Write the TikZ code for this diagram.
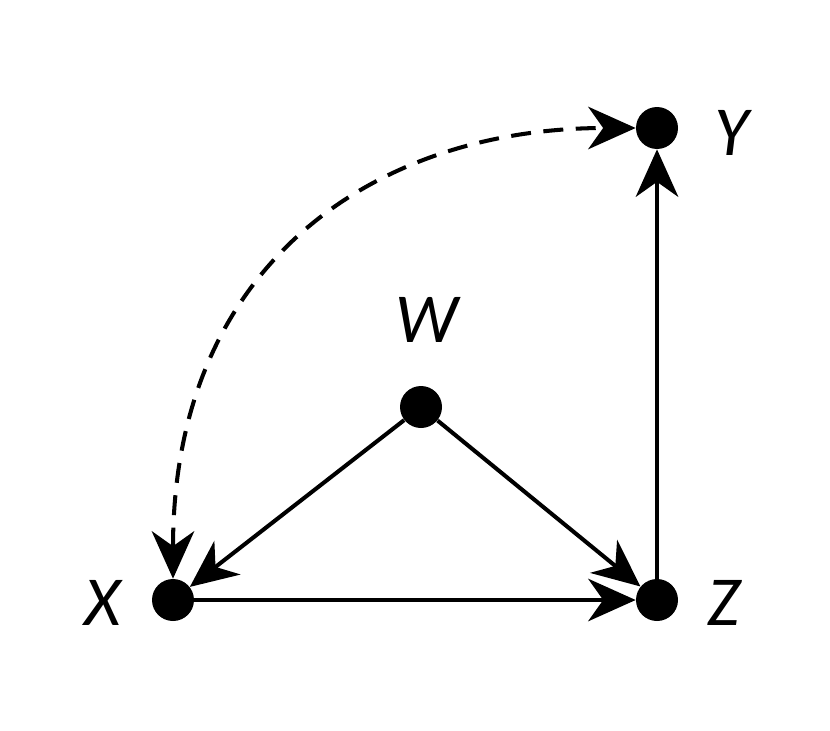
\documentclass[tikz,border=0pt]{standalone}
\usepackage{fontspec}
\setmainfont{Carlito}
\usetikzlibrary{arrows.meta}
\begin{document}
\begin{tikzpicture}[x=0.02cm,y=-0.02cm,
  dot/.style={circle,fill=black,inner sep=0pt,minimum size=0.84cm},
  lbl/.style={font=\fontsize{40}{40}\selectfont\itshape},
  edge/.style={line width=2.3pt,-{Stealth[length=0.95cm,width=0.85cm,inset=0.3cm]}}]
\useasboundingbox (0,0) rectangle (830,730);
\node[dot] (X) at (173,600) {};
\node[dot] (Z) at (657,600) {};
\node[dot] (Y) at (657,128) {};
\node[dot] (W) at (421,407) {};
\node[lbl] (lX) at (103,603) {X};
\node[lbl] (lZ) at (724,603) {Z};
\node[lbl] (lY) at (732,133) {Y};
\node[lbl] (lW) at (427,320) {W};
\draw[edge] (X) -- (Z);
\draw[edge] (Z) -- (Y);
\draw[edge] (W) -- (X);
\draw[edge] (W) -- (Z);
\draw[edge,dash pattern=on 0.4cm off 0.25cm,{Stealth[length=0.95cm,width=0.85cm,inset=0.3cm]}-{Stealth[length=0.95cm,width=0.85cm,inset=0.3cm]}]
  (X) .. controls (173,260) and (380,128) .. (Y);
\end{tikzpicture}
\end{document}
